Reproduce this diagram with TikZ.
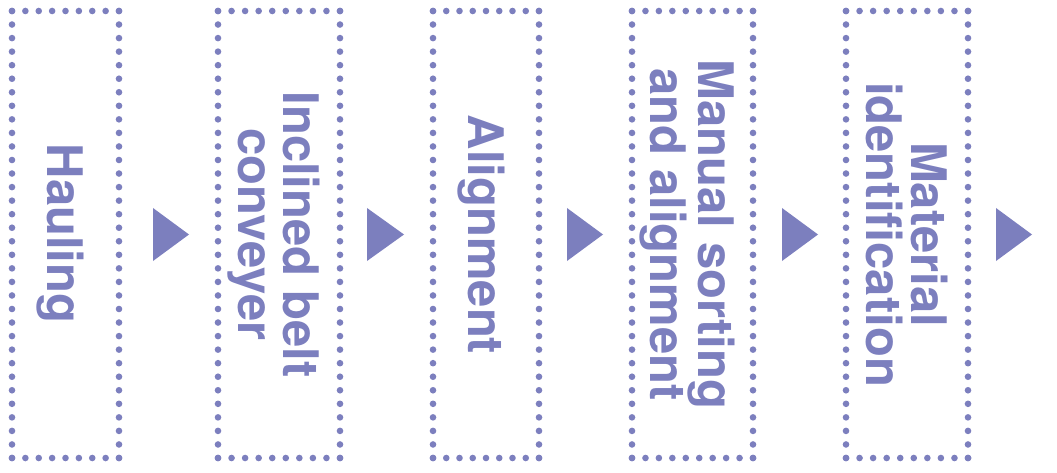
\documentclass[tikz,border=0pt]{standalone}
\usepackage{fontspec}
\setmainfont{TeX Gyre Heros}
\definecolor{pur}{HTML}{7C7FBE}
\newcommand\dotside[4]{%
  \pgfmathsetmacro\dlen{veclen(#3-#1,#4-#2)}%
  \pgfmathtruncatemacro\dn{round(\dlen/13.5)}%
  \foreach \di in {0,...,\dn}{%
    \pgfmathsetmacro\dx{#1+(#3-#1)*\di/\dn}%
    \pgfmathsetmacro\dy{#2+(#4-#2)*\di/\dn}%
    \fill[pur] (\dx,\dy) circle[radius=3.3pt];
  }}
\newcommand\dotbox[5]{%
  \dotside{#2}{#3}{#4}{#3}\dotside{#4}{#3}{#4}{#5}%
  \dotside{#4}{#5}{#2}{#5}\dotside{#2}{#5}{#2}{#3}%
  \pgfmathsetmacro\bw{#4-#2}\pgfmathsetmacro\bh{#5-#3}%
  \node[frame, minimum width=\bw pt, minimum height=\bh pt] (#1) at ({(#2+#4)/2},{(#3+#5)/2}) {};}
\newcommand\tri[3]{% name, x1, x2
  \coordinate (#1) at (#2,234.5);
  \fill[pur] (#2,208) -- (#3,234.5) -- (#2,261) -- cycle;}
\tikzset{
  frame/.style={inner sep=0pt, outer sep=0pt},
  lbl/.style={rotate=-90, align=center, text=pur, inner sep=0pt,
    font=\fontsize{49}{44.5}\selectfont\bfseries}
}
\begin{document}
\begin{tikzpicture}[x=1pt,y=-1pt]
\useasboundingbox (0,0) rectangle (1057,473);
\dotbox{b1}{12}{11}{119}{458}
\dotbox{b2}{218}{11}{340}{458}
\dotbox{b3}{433}{11}{539}{458}
\dotbox{b4}{632}{11}{753}{458}
\dotbox{b5}{846}{11}{968}{458}
\node[lbl] (t1) at ([xshift=-5pt,yshift=1pt]b1.center) {Hauling};
\node[lbl] (t2) at ([xshift=-5pt]b2.center) {Inclined belt\\conveyer};
\node[lbl] (t3) at ([xshift=-5pt]b3.center) {Alignment};
\node[lbl] (t4) at ([xshift=-5pt]b4.center) {Manual sorting\\and alignment};
\node[lbl] (t5) at (b5.center) {Material\\identification};
\tri{a1}{153}{189}
\tri{a2}{367}{404}
\tri{a3}{567}{603}
\tri{a4}{782}{818}
\tri{a5}{996}{1032}
\end{tikzpicture}
\end{document}
